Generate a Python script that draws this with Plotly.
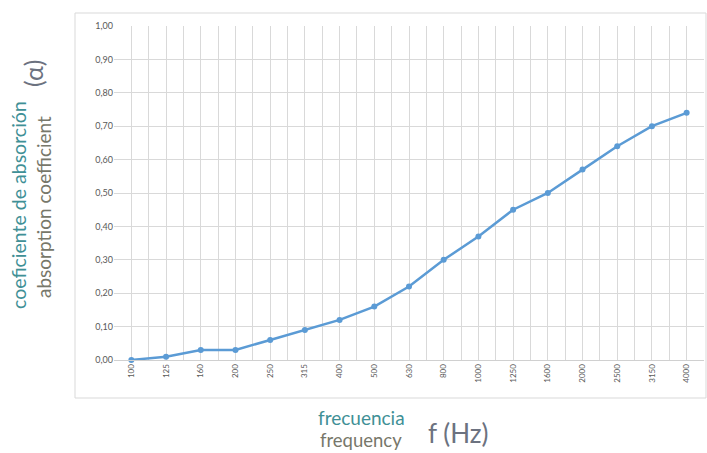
import plotly.graph_objects as go

freqs = ["100", "125", "160", "200", "250", "315", "400", "500", "630", "800",
         "1000", "1250", "1600", "2000", "2500", "3150", "4000"]
alpha = [0.00, 0.01, 0.03, 0.03, 0.06, 0.09, 0.12, 0.16, 0.22, 0.30,
         0.37, 0.45, 0.50, 0.57, 0.64, 0.70, 0.74]
y_ticks = [0.0, 0.1, 0.2, 0.3, 0.4, 0.5, 0.6, 0.7, 0.8, 0.9, 1.0]
y_labels = [f"{v:.2f}".replace(".", ",") for v in y_ticks]

xi = list(range(len(freqs)))

fig = go.Figure()
fig.add_trace(go.Scatter(
    x=xi, y=alpha, mode="lines+markers",
    line=dict(color="#5b9bd5", width=2.5),
    marker=dict(color="#5b9bd5", size=6),
    cliponaxis=False, showlegend=False,
))

W, H = 707, 453
fig.update_layout(
    width=W, height=H,
    margin=dict(l=114, r=3, t=26, b=93),
    paper_bgcolor="white", plot_bgcolor="white",
    font=dict(family="Lato", color="#595959"),
    xaxis=dict(
        range=[-0.5, len(freqs) - 0.5],
        tickmode="array", tickvals=xi, ticktext=freqs,
        tickangle=-90, tickfont=dict(size=8, color="#595959"),
        showgrid=True, gridcolor="#d9d9d9", gridwidth=1,
        minor=dict(tickmode="array", tickvals=[i - 0.5 for i in range(len(freqs) + 1)],
                   showgrid=True, gridcolor="#d9d9d9", gridwidth=1),
        showline=True, linecolor="#d0d0d0", linewidth=1,
        ticks="", zeroline=False, fixedrange=True,
    ),
    yaxis=dict(
        range=[0, 1], tickmode="array", tickvals=y_ticks, ticktext=y_labels,
        tickfont=dict(size=9, color="#595959"),
        showgrid=True, gridcolor="#d9d9d9", gridwidth=1,
        zeroline=False, showline=False, ticks="", ticklen=0, fixedrange=True,
    ),
    shapes=[dict(type="rect", xref="paper", yref="paper",
                 x0=(75 - 114) / (W - 117), x1=(706 - 114) / (W - 117),
                 y0=-(398 - 360) / (H - 119), y1=(360 - 13) / (H - 119),
                 line=dict(color="#d9d9d9", width=1), fillcolor="rgba(0,0,0,0)",
                 layer="below")],
)

def px(xp, yp):
    return (xp - 114) / (W - 117), (360 - yp) / (H - 119)

annots = [
    (18, 205, "coeficiente de absorción", "#3f9096", 19.5, -90),
    (43, 207, "absorption coefficient", "#77776a", 19, -90),
    (33, 74, "(α)", "#6c7280", 25, -90),
    (361, 417, "frecuencia", "#3f9096", 19, 0),
    (361, 440, "frequency", "#77776a", 18.5, 0),
    (458, 433, "f (Hz)", "#6c7280", 26, 0),
]
for xp, yp, t, c, s, ang in annots:
    ax, ay = px(xp, yp)
    fig.add_annotation(x=ax, y=ay, xref="paper", yref="paper", text=t,
                       showarrow=False, textangle=ang,
                       font=dict(family="Lato", size=s, color=c),
                       xanchor="center", yanchor="middle")

fig.write_html("out.html", config={"displayModeBar": False},
               post_script="document.body.style.margin='0';")
